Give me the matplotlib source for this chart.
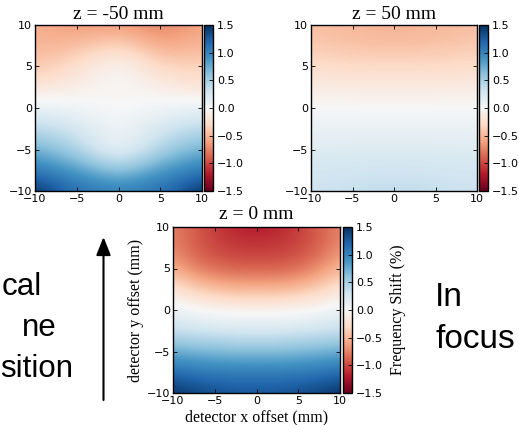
import numpy as np
import matplotlib
matplotlib.use('Agg')
import matplotlib.pyplot as plt

# grid sample positions (mm), rows go from top (y=10) to bottom (y=-10)
x_pos = [-10, -7.5, -5, -2.5, 0, 2.5, 5, 7.5, 10]
y_pos = [10, 7.5, 5, 2.5, 0, -2.5, -5, -7.5, -10]

# frequency shift (%)
shift_m50 = [
    [-0.55, -0.60, -0.65, -0.65, -0.65, -0.70, -0.75, -0.70, -0.60],
    [-0.50, -0.50, -0.45, -0.40, -0.35, -0.45, -0.55, -0.55, -0.50],
    [-0.40, -0.35, -0.25, -0.12, -0.05, -0.15, -0.30, -0.35, -0.35],
    [-0.20, -0.15, -0.10, -0.05, -0.02, -0.05, -0.10, -0.15, -0.20],
    [0.10, 0.08, 0.05, 0.02, -0.02, 0.02, 0.05, 0.08, 0.10],
    [0.40, 0.35, 0.25, 0.15, 0.08, 0.15, 0.25, 0.35, 0.40],
    [0.70, 0.60, 0.45, 0.25, 0.12, 0.25, 0.45, 0.60, 0.70],
    [1.05, 0.95, 0.85, 0.70, 0.60, 0.70, 0.85, 0.95, 1.05],
    [1.50, 1.30, 1.15, 1.10, 1.05, 1.10, 1.15, 1.30, 1.50],
]
shift_p50 = [
    [-0.45, -0.48, -0.50, -0.52, -0.52, -0.52, -0.50, -0.48, -0.45],
    [-0.40, -0.42, -0.43, -0.45, -0.45, -0.45, -0.43, -0.42, -0.40],
    [-0.27, -0.28, -0.30, -0.30, -0.30, -0.30, -0.30, -0.28, -0.27],
    [-0.13, -0.13, -0.14, -0.14, -0.14, -0.14, -0.14, -0.13, -0.13],
    [0.00, 0.00, 0.00, 0.00, 0.00, 0.00, 0.00, 0.00, 0.00],
    [0.10, 0.10, 0.10, 0.10, 0.10, 0.10, 0.10, 0.10, 0.10],
    [0.19, 0.19, 0.20, 0.20, 0.20, 0.20, 0.20, 0.19, 0.19],
    [0.27, 0.28, 0.28, 0.29, 0.29, 0.29, 0.28, 0.28, 0.27],
    [0.32, 0.33, 0.35, 0.37, 0.38, 0.37, 0.35, 0.33, 0.32],
]
shift_0 = [
    [-0.75, -0.90, -1.05, -1.15, -1.20, -1.15, -1.05, -0.90, -0.75],
    [-0.75, -0.90, -1.00, -1.05, -1.05, -1.05, -1.00, -0.90, -0.70],
    [-0.55, -0.75, -0.85, -0.90, -0.90, -0.90, -0.85, -0.70, -0.50],
    [-0.20, -0.35, -0.45, -0.50, -0.50, -0.50, -0.45, -0.35, -0.20],
    [0.10, 0.02, -0.02, -0.05, -0.05, -0.05, -0.02, 0.02, 0.10],
    [0.35, 0.30, 0.28, 0.25, 0.25, 0.25, 0.28, 0.30, 0.35],
    [0.75, 0.70, 0.68, 0.65, 0.65, 0.65, 0.68, 0.70, 0.75],
    [1.15, 1.10, 1.05, 1.05, 1.05, 1.05, 1.05, 1.10, 1.15],
    [1.50, 1.40, 1.35, 1.30, 1.30, 1.30, 1.35, 1.40, 1.50],
]

titles = ['z = -50 mm', 'z = 50 mm', 'z = 0 mm']
cbar_ticks = [-1.5, -1.0, -0.5, 0.0, 0.5, 1.0, 1.5]
axis_ticks = [-10, -5, 0, 5, 10]

plt.rcParams['font.family'] = 'DejaVu Sans'
plt.rcParams['xtick.direction'] = 'in'
plt.rcParams['ytick.direction'] = 'in'
plt.rcParams['xtick.top'] = True
plt.rcParams['ytick.right'] = True

W, H = 519, 425
fig = plt.figure(figsize=(W / 100, H / 100), dpi=100)


def px_rect(left, top, right, bottom):
    # pixel box -> figure fraction [l, b, w, h]
    return [left / W, 1 - bottom / H, (right - left) / W, (bottom - top) / H]


def draw_panel(data, title, ax_box, cb_box, tpad):
    ax = fig.add_axes(px_rect(*ax_box))
    cax = fig.add_axes(px_rect(*cb_box))
    dx = (x_pos[1] - x_pos[0]) / 2
    dy = (y_pos[0] - y_pos[1]) / 2
    extent = [x_pos[0] - dx, x_pos[-1] + dx, y_pos[-1] - dy, y_pos[0] + dy]
    im = ax.imshow(np.array(data), cmap='RdBu', vmin=-1.5, vmax=1.5,
                   extent=extent, origin='upper', interpolation='bicubic',
                   aspect='auto')
    ax.set_xlim(-10, 10)
    ax.set_ylim(-10, 10)
    ax.set_xticks(axis_ticks)
    ax.set_yticks(axis_ticks)
    ax.tick_params(labelsize=8, length=3, width=0.6, pad=2)
    ax.tick_params(axis='x', pad=2.5)
    ax.set_title(title, family='Liberation Serif', fontsize=14, pad=tpad)
    cb = fig.colorbar(im, cax=cax, ticks=cbar_ticks)
    cb.ax.tick_params(labelsize=8, direction='in', length=3, width=0.6, pad=3)
    cb.outline.set_linewidth(1)
    for s in ax.spines.values():
        s.set_linewidth(1)
    return ax, cb


draw_panel(shift_m50, titles[0], (35, 25, 202, 191), (204, 25, 213, 191), 4.5)
draw_panel(shift_p50, titles[1], (311, 25, 477, 191), (479, 25, 488, 191), 4.5)
ax0, cb0 = draw_panel(shift_0, titles[2], (173, 227, 340, 393), (343, 227, 352, 393), 6)

ax0.set_xlabel('detector x offset (mm)', family='Liberation Serif', fontsize=11.5, labelpad=2)
ax0.set_ylabel('detector y offset (mm)', family='Liberation Serif', fontsize=11.5, labelpad=2)
cb0.set_label('Frequency Shift (%)', family='Liberation Serif', fontsize=11.5, labelpad=5)

# side annotations
left_txt = dict(family='Liberation Sans', fontsize=22.5, va='baseline', ha='left')
right_txt = dict(family='Liberation Sans', fontsize=24, va='baseline', ha='left')
fig.text(2 / W, 1 - 295 / H, 'cal', **left_txt)
fig.text(22 / W, 1 - 336 / H, 'ne', **left_txt)
fig.text(0 / W, 1 - 377 / H, 'sition', **left_txt)
fig.text(435 / W, 1 - 306 / H, 'In', **right_txt)
fig.text(435 / W, 1 - 348 / H, 'focus', **right_txt)

fig.patches.append(matplotlib.patches.FancyArrowPatch(
    (103.5 / W, 1 - 400 / H), (103.5 / W, 1 - 237 / H),
    transform=fig.transFigure, arrowstyle='-|>,head_length=0.55,head_width=0.22',
    mutation_scale=20, color='black', linewidth=1.5, shrinkA=0, shrinkB=0))

fig.savefig('out.png', dpi=100)
